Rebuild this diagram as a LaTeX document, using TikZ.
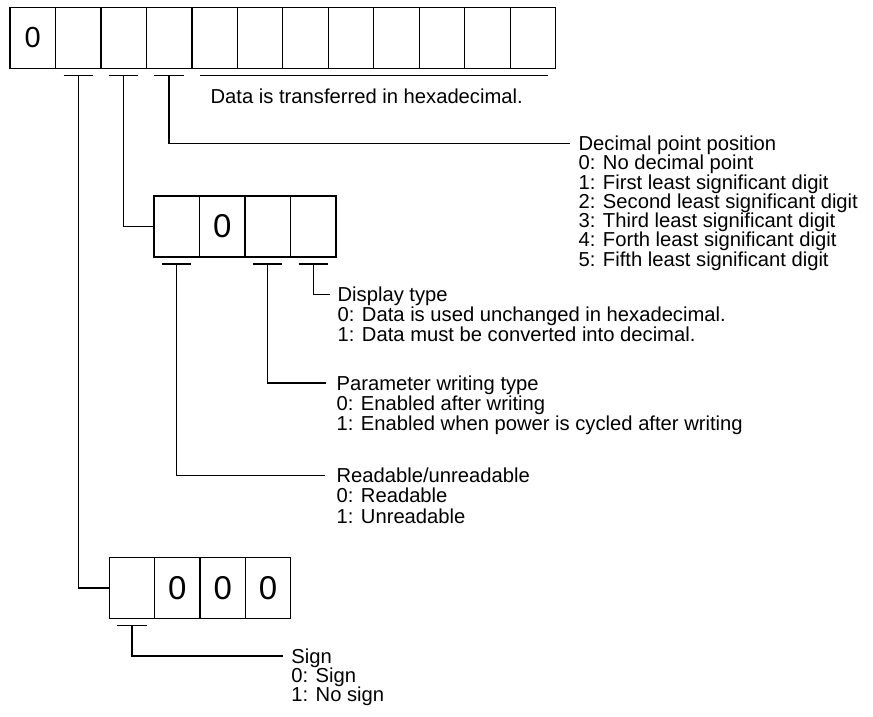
\documentclass[tikz,border=0pt]{standalone}
\usepackage{fontspec}
\setmainfont{Liberation Sans}
\usetikzlibrary{calc}
\newcommand\lblfont{\fontsize{20.2}{22}\selectfont}
\newcommand\digA{\fontsize{29}{29}\selectfont}
\newcommand\digB{\fontsize{33}{33}\selectfont}
\begin{document}
\begin{tikzpicture}[x=1pt,y=-1pt,line width=1.3pt,
  cell/.style={draw,minimum height=61pt,inner sep=0pt,outer sep=0pt},
  tcell/.style={cell,minimum width=45.47pt},
  mcell/.style={cell,minimum width=45.5pt},
  bcell/.style={cell,minimum width=45.35pt},
  ttl/.style={font=\lblfont,inner sep=0pt,text height=14.2pt,text depth=0pt,anchor=west},
  lbl/.style={font=\lblfont,inner sep=0pt,anchor=base west},
  tick/.style={line width=1.3pt}]
\useasboundingbox (0,0) rectangle (873,717);
% top register
\node[tcell] (t1) at ({10+45.47*0.5},37.8) {\digA 0};
\foreach \i in {2,...,12}
  \node[tcell] (t\i) at ({10+45.47*(\i-0.5)},37.8) {};
% middle register
\node[mcell] (m1) at ({154+45.5*0.5},226.5) {};
\node[mcell] (m2) at ({154+45.5*1.5},226.5) {\digB 0};
\node[mcell] (m3) at ({154+45.5*2.5},226.5) {};
\node[mcell] (m4) at ({154+45.5*3.5},226.5) {};
% bottom register
\node[bcell] (b1) at ({109.3+45.35*0.5},588) {};
\node[bcell] (b2) at ({109.3+45.35*1.5},588) {\digB 0};
\node[bcell] (b3) at ({109.3+45.35*2.5},588) {\digB 0};
\node[bcell] (b4) at ({109.3+45.35*3.5},588) {\digB 0};
% tick coordinates
\foreach \c in {t2,t3,t4,m1,m3,m4,b1}
  \coordinate (k\c) at ($(\c.south)+(0,7)$);
\foreach \c in {t2,t3,t4,m1,m3,m4,b1}
  \draw[tick] ([xshift=-14.7pt]k\c) -- ([xshift=14.7pt]k\c);
\coordinate (h1) at ($(t5.south west)+(8,7)$);
\coordinate (h2) at ($(t12.south east)+(-8,7)$);
\draw (h1) -- (h2);
\node[lbl] (hex) at (210,103) {Data is transferred in hexadecimal.};
% decimal point position
\node[ttl] (dp) at (578,143.3) {Decimal point position};
\node[lbl] (dp0) at ($(dp.base west)+(0,19.3)$) {0: No decimal point};
\node[lbl] (dp1) at ($(dp.base west)+(0,38.6)$) {1: First least significant digit};
\node[lbl] (dp2) at ($(dp.base west)+(0,57.9)$) {2: Second least significant digit};
\node[lbl] (dp3) at ($(dp.base west)+(0,77.2)$) {3: Third least significant digit};
\node[lbl] (dp4) at ($(dp.base west)+(0,96.5)$) {4: Forth least significant digit};
\node[lbl] (dp5) at ($(dp.base west)+(0,115.8)$) {5: Fifth least significant digit};
\draw (kt4) |- ([xshift=-8pt]dp.west);
% links to sub registers
\draw (kt3) |- (m1.west);
\draw (kt2) |- (b1.west);
% display type
\node[ttl] (dt) at (337,294.5) {Display type};
\node[lbl] (dt0) at ($(dt.base west)+(0,20)$) {0: Data is used unchanged in hexadecimal.};
\node[lbl] (dt1) at ($(dt.base west)+(0,40)$) {1: Data must be converted into decimal.};
\draw (km4) |- ([xshift=-7pt]dt.west);
% parameter writing type
\node[ttl] (pw) at (336,383) {Parameter writing type};
\node[lbl] (pw0) at ($(pw.base west)+(0,20.2)$) {0: Enabled after writing};
\node[lbl] (pw1) at ($(pw.base west)+(0,40.4)$) {1: Enabled when power is cycled after writing};
\draw (km3) |- ([xshift=-10pt]pw.west);
% readable
\node[ttl] (rd) at (336,475.5) {Readable/unreadable};
\node[lbl] (rd0) at ($(rd.base west)+(0,20.2)$) {0: Readable};
\node[lbl] (rd1) at ($(rd.base west)+(0,40.4)$) {1: Unreadable};
\draw (km1) |- ([xshift=-11pt]rd.west);
% sign
\node[ttl] (sg) at (290.7,656) {Sign};
\node[lbl] (sg0) at ($(sg.base west)+(0,19)$) {0: Sign};
\node[lbl] (sg1) at ($(sg.base west)+(0,38)$) {1: No sign};
\draw (kb1) |- ([xshift=-8pt]sg.west);
\end{tikzpicture}
\end{document}
